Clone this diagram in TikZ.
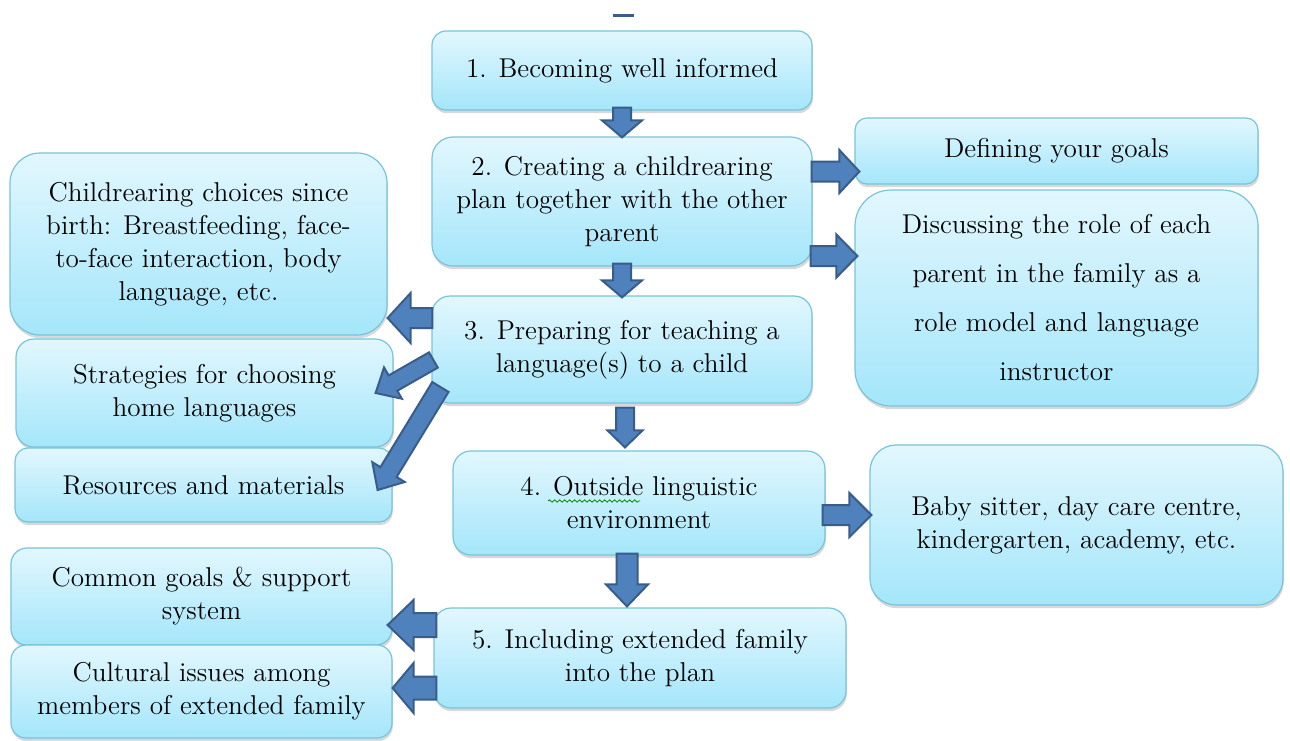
\documentclass[tikz,border=0pt]{standalone}
\usetikzlibrary{calc,shadows,decorations.pathmorphing}
\definecolor{boxtop}{RGB}{226,247,254}
\definecolor{boxbot}{RGB}{164,230,250}
\definecolor{boxline}{RGB}{120,196,218}
\definecolor{arrfill}{RGB}{79,129,189}
\definecolor{arrline}{RGB}{56,93,138}
\tikzset{
 box/.style={draw=boxline, line width=0.6pt, top color=boxtop, bottom color=boxbot,
   rounded corners=#1, align=center, inner sep=2pt,
   font=\rmfamily\fontsize{13.6pt}{16.5pt}\selectfont,
   drop shadow={shadow xshift=0.4pt, shadow yshift=-1.6pt, opacity=0.3}},
 box/.default=7pt,
 blockarr/.style={fill=arrfill, draw=arrline, line width=1pt, line join=miter},
}
% #1 start, #2 end, #3 shaft half width, #4 head half width, #5 head length
\newcommand\fatarrow[5]{%
 \path #1 coordinate (faA) #2 coordinate (faB);
 \coordinate (faC) at ($(faB)!#5!(faA)$);
 \draw[blockarr] ($(faA)!#3!90:(faB)$) -- ($(faC)!#3!-90:(faA)$) -- ($(faC)!#4!-90:(faA)$)
   -- (faB) -- ($(faC)!#4!90:(faA)$) -- ($(faC)!#3!90:(faA)$) -- ($(faA)!#3!-90:(faB)$) -- cycle;
}
\begin{document}
\begin{tikzpicture}[x=0.5pt,y=-0.5pt]
\useasboundingbox[fill=white] (0,0) rectangle (1290,740);
% top mark
\coordinate (m1) at (613,15.5);
\coordinate (m2) at (634,15.5);
\draw[arrline, line width=1.2pt] (m1) -- (m2);

% boxes
\node[box=7pt, minimum width=190pt, minimum height=39.5pt] (n1) at (622,70.5) {1. Becoming well informed};
\node[box=10.5pt, minimum width=190pt, minimum height=64.5pt] (n2) at (622,201.5) {2. Creating a childrearing\\plan together with the other\\parent};
\node[box=9pt, minimum width=190pt, minimum height=53.5pt] (n3) at (622,349.5) {3. Preparing for teaching a\\language(s) to a child};
\node[box=9pt, minimum width=186pt, minimum height=52pt] (n4) at (639,503) {4. Outside linguistic\\environment};
\node[box=8.5pt, minimum width=206pt, minimum height=50pt] (n5) at (640,658) {5. Including extended family\\into the plan};

\node[box=6pt, minimum width=201.5pt, minimum height=33pt] (def) at (1056.5,151) {Defining your goals};
\node[box=18pt, minimum width=201.5pt, minimum height=108pt, font=\rmfamily\fontsize{13.6pt}{24.5pt}\selectfont] (disc) at (1056.5,298) {Discussing the role of each\\parent in the family as a\\role model and language\\instructor};
\node[box=13pt, minimum width=206.5pt, minimum height=80pt] (baby) at (1076.5,525) {Baby sitter, day care centre,\\kindergarten, academy, etc.};

\node[box=15pt, minimum width=188.5pt, minimum height=91pt] (child) at (198.5,244) {Childrearing choices since\\birth: Breastfeeding, face-\\to-face interaction, body\\language, etc.};
\node[box=9pt, minimum width=188.5pt, minimum height=54pt] (strat) at (204.5,393) {Strategies for choosing\\home languages};
\node[box=6.5pt, minimum width=188.5pt, minimum height=37pt] (res) at (203.5,485) {Resources and materials};
\node[box=8pt, minimum width=190.5pt, minimum height=48.5pt] (common) at (201.5,596.5) {Common goals \& support\\system};
\node[box=7.5pt, minimum width=190.5pt, minimum height=46.5pt] (cult) at (201.5,691.5) {Cultural issues among\\members of extended family};

% spell-check underline
\coordinate (w1) at (548,501);
\coordinate (w2) at (640,501);
\draw[green!55!black, line width=0.4pt, decorate, decoration={snake, amplitude=0.6pt, segment length=2.5pt}] (w1) -- (w2);

% block arrows
\fatarrow{([yshift=1.5pt]n1.south)}{([yshift=-0.5pt]n2.north)}{4.5pt}{10pt}{8.5pt}
\fatarrow{([yshift=1.5pt]n2.south)}{([yshift=-1pt]n3.north)}{4.5pt}{10pt}{8.5pt}
\coordinate (a34s) at ([xshift=1.5pt,yshift=-2pt]n3.south);
\coordinate (a34e) at ([yshift=1.5pt]a34s |- n4.north);
\fatarrow{(a34s)}{(a34e)}{4.5pt}{8.75pt}{8.5pt}
\coordinate (a45s) at ([xshift=-6pt,yshift=1pt]n4.south);
\coordinate (a45e) at ([yshift=0.5pt]a45s |- n5.north);
\fatarrow{(a45s)}{(a45e)}{5.25pt}{10.5pt}{11pt}

\coordinate (a2ds) at ([xshift=-0.5pt,yshift=15pt]n2.east);
\coordinate (a2de) at ([xshift=2.5pt]a2ds -| def.west);
\fatarrow{(a2ds)}{(a2de)}{5pt}{10.75pt}{10pt}
\coordinate (a2cs) at ([xshift=-1pt,yshift=-27.25pt]n2.east);
\coordinate (a2ce) at ([xshift=1.5pt]a2cs -| disc.west);
\fatarrow{(a2cs)}{(a2ce)}{5pt}{10.75pt}{10.5pt}
\coordinate (a4bs) at ([xshift=-1.5pt,yshift=-6pt]n4.east);
\coordinate (a4be) at ([xshift=1pt]a4bs -| baby.west);
\fatarrow{(a4bs)}{(a4be)}{5pt}{11pt}{11pt}

\coordinate (a3cs) at ([xshift=0.5pt,yshift=15.75pt]n3.west);
\coordinate (a3ce) at (a3cs -| child.east);
\fatarrow{(a3cs)}{(a3ce)}{5pt}{12.5pt}{11.5pt}
\coordinate (a3ss) at ([xshift=1pt,yshift=-5.25pt]n3.west);
\coordinate (a3se) at ([xshift=-9pt]strat.east);
\fatarrow{(a3ss)}{(a3se)}{4.4pt}{9pt}{10pt}
\coordinate (a3rs) at ([xshift=4.5pt,yshift=-18.75pt]n3.west);
\coordinate (a3re) at ([xshift=-7.5pt,yshift=-2.5pt]res.east);
\fatarrow{(a3rs)}{(a3re)}{4.75pt}{9.5pt}{10.5pt}

\coordinate (a5cs) at ([xshift=1.5pt,yshift=16.5pt]n5.west);
\coordinate (a5ce) at ([xshift=-2.5pt]a5cs -| common.east);
\fatarrow{(a5cs)}{(a5ce)}{6pt}{12.5pt}{13pt}
\coordinate (a5us) at ([xshift=1.5pt,yshift=-15pt]n5.west);
\coordinate (a5ue) at (a5us -| cult.east);
\fatarrow{(a5us)}{(a5ue)}{5.75pt}{12.5pt}{10.5pt}
\end{tikzpicture}
\end{document}
